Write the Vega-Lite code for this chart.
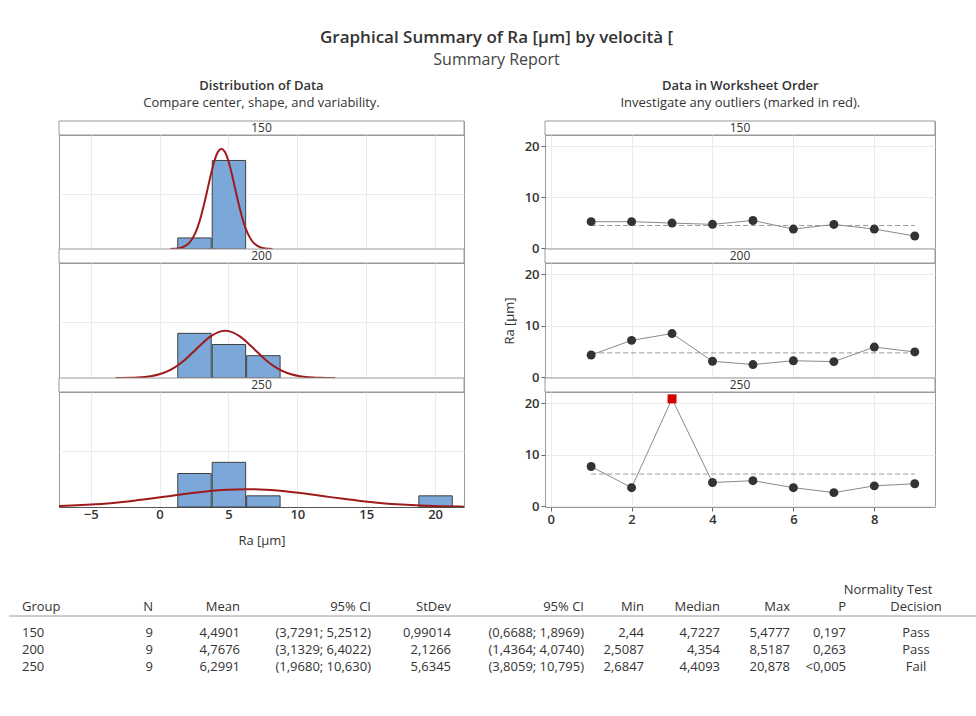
{
  "$schema": "https://vega.github.io/schema/vega-lite/v6.json",
  "padding": {"left": 8, "top": 29, "right": 0, "bottom": 0},
  "background": "white",
  "title": {"text": "Graphical Summary of Ra [μm] by velocità [", "subtitle": "Summary Report", "fontSize": 17, "fontWeight": 600, "color": "#333333", "subtitleFontSize": 16, "subtitleColor": "#444444", "subtitlePadding": 5, "anchor": "middle", "offset": 11, "dx": 4},
  "datasets": {
    "ts": [
      {"grp": "150", "obs": 1, "ra": 5.25, "out": "n"},
      {"grp": "150", "obs": 2, "ra": 5.25, "out": "n"},
      {"grp": "150", "obs": 3, "ra": 4.97, "out": "n"},
      {"grp": "150", "obs": 4, "ra": 4.7227, "out": "n"},
      {"grp": "150", "obs": 5, "ra": 5.4777, "out": "n"},
      {"grp": "150", "obs": 6, "ra": 3.8, "out": "n"},
      {"grp": "150", "obs": 7, "ra": 4.7, "out": "n"},
      {"grp": "150", "obs": 8, "ra": 3.8, "out": "n"},
      {"grp": "150", "obs": 9, "ra": 2.44, "out": "n"},
      {"grp": "200", "obs": 1, "ra": 4.354, "out": "n"},
      {"grp": "200", "obs": 2, "ra": 7.2, "out": "n"},
      {"grp": "200", "obs": 3, "ra": 8.5187, "out": "n"},
      {"grp": "200", "obs": 4, "ra": 3.15, "out": "n"},
      {"grp": "200", "obs": 5, "ra": 2.5087, "out": "n"},
      {"grp": "200", "obs": 6, "ra": 3.25, "out": "n"},
      {"grp": "200", "obs": 7, "ra": 3.08, "out": "n"},
      {"grp": "200", "obs": 8, "ra": 5.9, "out": "n"},
      {"grp": "200", "obs": 9, "ra": 4.95, "out": "n"},
      {"grp": "250", "obs": 1, "ra": 7.75, "out": "n"},
      {"grp": "250", "obs": 2, "ra": 3.65, "out": "n"},
      {"grp": "250", "obs": 3, "ra": 20.878, "out": "y"},
      {"grp": "250", "obs": 4, "ra": 4.65, "out": "n"},
      {"grp": "250", "obs": 5, "ra": 5.0, "out": "n"},
      {"grp": "250", "obs": 6, "ra": 3.65, "out": "n"},
      {"grp": "250", "obs": 7, "ra": 2.6847, "out": "n"},
      {"grp": "250", "obs": 8, "ra": 4.0, "out": "n"},
      {"grp": "250", "obs": 9, "ra": 4.4093, "out": "n"}
    ],
    "means": [
      {"grp": "150", "mean": 4.4901, "s": 1, "e": 9},
      {"grp": "200", "mean": 4.7676, "s": 1, "e": 9},
      {"grp": "250", "mean": 6.2991, "s": 1, "e": 9}
    ],
    "curve": [
      {"grp": "150", "x": 0.7771, "y": 0.008}, {"grp": "150", "x": 1.0246, "y": 0.0199}, {"grp": "150", "x": 1.2721, "y": 0.0461}, {"grp": "150", "x": 1.5197, "y": 0.1007}, {"grp": "150", "x": 1.7672, "y": 0.2066}, {"grp": "150", "x": 2.0147, "y": 0.3984}, {"grp": "150", "x": 2.2623, "y": 0.7213}, {"grp": "150", "x": 2.5098, "y": 1.227}, {"grp": "150", "x": 2.7574, "y": 1.9607}, {"grp": "150", "x": 3.0049, "y": 2.9433}, {"grp": "150", "x": 3.2524, "y": 4.1507}, {"grp": "150", "x": 3.5, "y": 5.4988}, {"grp": "150", "x": 3.7475, "y": 6.8434}, {"grp": "150", "x": 3.995, "y": 8.0007}, {"grp": "150", "x": 4.2426, "y": 8.787}, {"grp": "150", "x": 4.4901, "y": 9.066}, {"grp": "150", "x": 4.7376, "y": 8.787}, {"grp": "150", "x": 4.9852, "y": 8.0007}, {"grp": "150", "x": 5.2327, "y": 6.8434}, {"grp": "150", "x": 5.4802, "y": 5.4988}, {"grp": "150", "x": 5.7278, "y": 4.1507}, {"grp": "150", "x": 5.9753, "y": 2.9433}, {"grp": "150", "x": 6.2228, "y": 1.9607}, {"grp": "150", "x": 6.4704, "y": 1.227}, {"grp": "150", "x": 6.7179, "y": 0.7213}, {"grp": "150", "x": 6.9655, "y": 0.3984}, {"grp": "150", "x": 7.213, "y": 0.2066}, {"grp": "150", "x": 7.4605, "y": 0.1007}, {"grp": "150", "x": 7.7081, "y": 0.0461}, {"grp": "150", "x": 7.9556, "y": 0.0199}, {"grp": "150", "x": 8.2031, "y": 0.008},
      {"grp": "200", "x": -3.2072, "y": 0.0037}, {"grp": "200", "x": -2.6755, "y": 0.0092}, {"grp": "200", "x": -2.1439, "y": 0.0215}, {"grp": "200", "x": -1.6122, "y": 0.0469}, {"grp": "200", "x": -1.0806, "y": 0.0962}, {"grp": "200", "x": -0.5489, "y": 0.1855}, {"grp": "200", "x": -0.0173, "y": 0.3358}, {"grp": "200", "x": 0.5144, "y": 0.5713}, {"grp": "200", "x": 1.046, "y": 0.9129}, {"grp": "200", "x": 1.5777, "y": 1.3703}, {"grp": "200", "x": 2.1093, "y": 1.9325}, {"grp": "200", "x": 2.641, "y": 2.5601}, {"grp": "200", "x": 3.1726, "y": 3.1861}, {"grp": "200", "x": 3.7043, "y": 3.7249}, {"grp": "200", "x": 4.2359, "y": 4.091}, {"grp": "200", "x": 4.7676, "y": 4.2209}, {"grp": "200", "x": 5.2993, "y": 4.091}, {"grp": "200", "x": 5.8309, "y": 3.7249}, {"grp": "200", "x": 6.3626, "y": 3.1861}, {"grp": "200", "x": 6.8942, "y": 2.5601}, {"grp": "200", "x": 7.4259, "y": 1.9325}, {"grp": "200", "x": 7.9575, "y": 1.3703}, {"grp": "200", "x": 8.4892, "y": 0.9129}, {"grp": "200", "x": 9.0208, "y": 0.5713}, {"grp": "200", "x": 9.5525, "y": 0.3358}, {"grp": "200", "x": 10.0841, "y": 0.1855}, {"grp": "200", "x": 10.6158, "y": 0.0962}, {"grp": "200", "x": 11.1474, "y": 0.0469}, {"grp": "200", "x": 11.6791, "y": 0.0215}, {"grp": "200", "x": 12.2107, "y": 0.0092}, {"grp": "200", "x": 12.7424, "y": 0.0037},
      {"grp": "250", "x": -9.1958, "y": 0.0363}, {"grp": "250", "x": -7.7872, "y": 0.07}, {"grp": "250", "x": -6.3785, "y": 0.1267}, {"grp": "250", "x": -4.9699, "y": 0.2156}, {"grp": "250", "x": -3.5613, "y": 0.3445}, {"grp": "250", "x": -2.1527, "y": 0.5172}, {"grp": "250", "x": -0.744, "y": 0.7294}, {"grp": "250", "x": 0.6646, "y": 0.9663}, {"grp": "250", "x": 2.0732, "y": 1.2025}, {"grp": "250", "x": 3.4818, "y": 1.4059}, {"grp": "250", "x": 4.8905, "y": 1.5441}, {"grp": "250", "x": 6.2991, "y": 1.5931}, {"grp": "250", "x": 7.7077, "y": 1.5441}, {"grp": "250", "x": 9.1164, "y": 1.4059}, {"grp": "250", "x": 10.525, "y": 1.2025}, {"grp": "250", "x": 11.9336, "y": 0.9663}, {"grp": "250", "x": 13.3422, "y": 0.7294}, {"grp": "250", "x": 14.7509, "y": 0.5172}, {"grp": "250", "x": 16.1595, "y": 0.3445}, {"grp": "250", "x": 17.5681, "y": 0.2156}, {"grp": "250", "x": 18.9767, "y": 0.1267}, {"grp": "250", "x": 20.3854, "y": 0.07}, {"grp": "250", "x": 21.794, "y": 0.0363}, {"grp": "250", "x": 23.2026, "y": 0.0177}
    ],
    "tbl": [
      {"r": 0, "c": 11, "t": "Normality Test"},
      {"r": 1, "c": 0, "t": "Group"}, {"r": 1, "c": 1, "t": "N"}, {"r": 1, "c": 2, "t": "Mean"}, {"r": 1, "c": 3, "t": "95% CI"}, {"r": 1, "c": 4, "t": "StDev"}, {"r": 1, "c": 5, "t": "95% CI"}, {"r": 1, "c": 6, "t": "Min"}, {"r": 1, "c": 7, "t": "Median"}, {"r": 1, "c": 8, "t": "Max"}, {"r": 1, "c": 9, "t": "P"}, {"r": 1, "c": 10, "t": "Decision"},
      {"r": 3, "c": 0, "t": "150"}, {"r": 3, "c": 1, "t": "9"}, {"r": 3, "c": 2, "t": "4,4901"}, {"r": 3, "c": 3, "t": "(3,7291; 5,2512)"}, {"r": 3, "c": 4, "t": "0,99014"}, {"r": 3, "c": 5, "t": "(0,6688; 1,8969)"}, {"r": 3, "c": 6, "t": "2,44"}, {"r": 3, "c": 7, "t": "4,7227"}, {"r": 3, "c": 8, "t": "5,4777"}, {"r": 3, "c": 9, "t": "0,197"}, {"r": 3, "c": 10, "t": "Pass"},
      {"r": 4, "c": 0, "t": "200"}, {"r": 4, "c": 1, "t": "9"}, {"r": 4, "c": 2, "t": "4,7676"}, {"r": 4, "c": 3, "t": "(3,1329; 6,4022)"}, {"r": 4, "c": 4, "t": "2,1266"}, {"r": 4, "c": 5, "t": "(1,4364; 4,0740)"}, {"r": 4, "c": 6, "t": "2,5087"}, {"r": 4, "c": 7, "t": "4,354"}, {"r": 4, "c": 8, "t": "8,5187"}, {"r": 4, "c": 9, "t": "0,263"}, {"r": 4, "c": 10, "t": "Pass"},
      {"r": 5, "c": 0, "t": "250"}, {"r": 5, "c": 1, "t": "9"}, {"r": 5, "c": 2, "t": "6,2991"}, {"r": 5, "c": 3, "t": "(1,9680; 10,630)"}, {"r": 5, "c": 4, "t": "5,6345"}, {"r": 5, "c": 5, "t": "(3,8059; 10,795)"}, {"r": 5, "c": 6, "t": "2,6847"}, {"r": 5, "c": 7, "t": "4,4093"}, {"r": 5, "c": 8, "t": "20,878"}, {"r": 5, "c": 9, "t": "<0,005"}, {"r": 5, "c": 10, "t": "Fail"}
    ],
    "tline": [{"r": 2, "c": -1, "c2": 12}]
  },
  "spacing": 33,
  "vconcat": [
    {
      "spacing": 37,
      "hconcat": [
        {
          "title": {"text": "Distribution of Data", "subtitle": "Compare center, shape, and variability.", "fontSize": 13, "fontWeight": 600, "color": "#333333", "subtitleFontSize": 13, "subtitleColor": "#333333", "subtitlePadding": 4, "anchor": "middle", "offset": 10},
          "spacing": 0,
          "bounds": "flush",
          "vconcat": [
            {"width": 405, "height": 14, "data": {"values": [{"lab": "150"}]}, "layer": [
              {"mark": {"type": "rect", "fill": "white", "stroke": "#9a9a9a", "strokeWidth": 1}, "encoding": {"x": {"datum": 0, "type": "quantitative", "scale": {"domain": [0, 1], "nice": false, "zero": false}, "axis": null}, "x2": {"datum": 1}, "y": {"datum": 0, "type": "quantitative", "scale": {"domain": [0, 1], "nice": false, "zero": false}, "axis": null}, "y2": {"datum": 1}}},
              {"mark": {"type": "text", "fontSize": 12, "color": "#333333", "baseline": "middle"}, "encoding": {"x": {"datum": 0.5, "type": "quantitative"}, "y": {"datum": 0.5, "type": "quantitative"}, "text": {"field": "lab"}}}
            ]},
            {"width": 405, "height": 114, "layer": [
              {"data": {"name": "ts"}, "transform": [{"filter": "datum.grp == '150'"}, {"bin": {"step": 2.5, "extent": [1.25, 21.25], "nice": false}, "field": "ra", "as": ["b0", "b1"]}, {"aggregate": [{"op": "count", "as": "n"}], "groupby": ["b0", "b1"]}],
               "mark": {"type": "bar", "fill": "#7BA7D9", "stroke": "#404040", "strokeWidth": 1},
               "encoding": {"x": {"field": "b0", "type": "quantitative", "bin": "binned", "scale": {"domain": [-7.3, 22.1], "nice": false, "zero": false}, "axis": {"values": [-5, 0, 5, 10, 15, 20], "labels": false, "ticks": false, "domain": true, "title": null, "grid": true}}, "x2": {"field": "b1"}, "y": {"field": "n", "type": "quantitative", "scale": {"domain": [0, 10.3], "nice": false}, "axis": {"values": [5], "labels": false, "ticks": false, "domain": false, "title": null, "grid": true}}}},
              {"data": {"name": "curve"}, "transform": [{"filter": "datum.grp == '150'"}], "mark": {"type": "line", "color": "#9E1B1B", "strokeWidth": 2, "interpolate": "monotone", "clip": true}, "encoding": {"x": {"field": "x", "type": "quantitative"}, "y": {"field": "y", "type": "quantitative"}}}
            ]},
            {"width": 405, "height": 14, "data": {"values": [{"lab": "200"}]}, "layer": [
              {"mark": {"type": "rect", "fill": "white", "stroke": "#9a9a9a", "strokeWidth": 1}, "encoding": {"x": {"datum": 0, "type": "quantitative", "scale": {"domain": [0, 1], "nice": false, "zero": false}, "axis": null}, "x2": {"datum": 1}, "y": {"datum": 0, "type": "quantitative", "scale": {"domain": [0, 1], "nice": false, "zero": false}, "axis": null}, "y2": {"datum": 1}}},
              {"mark": {"type": "text", "fontSize": 12, "color": "#333333", "baseline": "middle"}, "encoding": {"x": {"datum": 0.5, "type": "quantitative"}, "y": {"datum": 0.5, "type": "quantitative"}, "text": {"field": "lab"}}}
            ]},
            {"width": 405, "height": 115, "layer": [
              {"data": {"name": "ts"}, "transform": [{"filter": "datum.grp == '200'"}, {"bin": {"step": 2.5, "extent": [1.25, 21.25], "nice": false}, "field": "ra", "as": ["b0", "b1"]}, {"aggregate": [{"op": "count", "as": "n"}], "groupby": ["b0", "b1"]}],
               "mark": {"type": "bar", "fill": "#7BA7D9", "stroke": "#404040", "strokeWidth": 1},
               "encoding": {"x": {"field": "b0", "type": "quantitative", "bin": "binned", "scale": {"domain": [-7.3, 22.1], "nice": false, "zero": false}, "axis": {"values": [-5, 0, 5, 10, 15, 20], "labels": false, "ticks": false, "domain": true, "title": null, "grid": true}}, "x2": {"field": "b1"}, "y": {"field": "n", "type": "quantitative", "scale": {"domain": [0, 10.3], "nice": false}, "axis": {"values": [5], "labels": false, "ticks": false, "domain": false, "title": null, "grid": true}}}},
              {"data": {"name": "curve"}, "transform": [{"filter": "datum.grp == '200'"}], "mark": {"type": "line", "color": "#9E1B1B", "strokeWidth": 2, "interpolate": "monotone", "clip": true}, "encoding": {"x": {"field": "x", "type": "quantitative"}, "y": {"field": "y", "type": "quantitative"}}}
            ]},
            {"width": 405, "height": 14, "data": {"values": [{"lab": "250"}]}, "layer": [
              {"mark": {"type": "rect", "fill": "white", "stroke": "#9a9a9a", "strokeWidth": 1}, "encoding": {"x": {"datum": 0, "type": "quantitative", "scale": {"domain": [0, 1], "nice": false, "zero": false}, "axis": null}, "x2": {"datum": 1}, "y": {"datum": 0, "type": "quantitative", "scale": {"domain": [0, 1], "nice": false, "zero": false}, "axis": null}, "y2": {"datum": 1}}},
              {"mark": {"type": "text", "fontSize": 12, "color": "#333333", "baseline": "middle"}, "encoding": {"x": {"datum": 0.5, "type": "quantitative"}, "y": {"datum": 0.5, "type": "quantitative"}, "text": {"field": "lab"}}}
            ]},
            {"width": 405, "height": 115, "layer": [
              {"data": {"name": "ts"}, "transform": [{"filter": "datum.grp == '250'"}, {"bin": {"step": 2.5, "extent": [1.25, 21.25], "nice": false}, "field": "ra", "as": ["b0", "b1"]}, {"aggregate": [{"op": "count", "as": "n"}], "groupby": ["b0", "b1"]}],
               "mark": {"type": "bar", "fill": "#7BA7D9", "stroke": "#404040", "strokeWidth": 1},
               "encoding": {"x": {"field": "b0", "type": "quantitative", "bin": "binned", "scale": {"domain": [-7.3, 22.1], "nice": false, "zero": false}, "axis": {"values": [-5, 0, 5, 10, 15, 20], "labels": true, "labelFontWeight": 600, "ticks": false, "domain": true, "title": "Ra [μm]", "grid": true, "labelPadding": 1, "titlePadding": 13}}, "x2": {"field": "b1"}, "y": {"field": "n", "type": "quantitative", "scale": {"domain": [0, 10.3], "nice": false}, "axis": {"values": [5], "labels": false, "ticks": false, "domain": false, "title": null, "grid": true}}}},
              {"data": {"name": "curve"}, "transform": [{"filter": "datum.grp == '250'"}], "mark": {"type": "line", "color": "#9E1B1B", "strokeWidth": 2, "interpolate": "monotone", "clip": true}, "encoding": {"x": {"field": "x", "type": "quantitative"}, "y": {"field": "y", "type": "quantitative"}}}
            ]}
          ]
        },
        {
          "title": {"text": "Data in Worksheet Order", "subtitle": "Investigate any outliers (marked in red).", "fontSize": 13, "fontWeight": 600, "color": "#333333", "subtitleFontSize": 13, "subtitleColor": "#333333", "subtitlePadding": 4, "anchor": "middle", "offset": 10, "dx": 21},
          "spacing": 0,
          "bounds": "flush",
          "vconcat": [
            {"width": 390, "height": 14, "data": {"values": [{"lab": "150"}]}, "layer": [
              {"mark": {"type": "rect", "fill": "white", "stroke": "#9a9a9a", "strokeWidth": 1}, "encoding": {"x": {"datum": 0, "type": "quantitative", "scale": {"domain": [0, 1], "nice": false, "zero": false}, "axis": null}, "x2": {"datum": 1}, "y": {"datum": 0, "type": "quantitative", "scale": {"domain": [0, 1], "nice": false, "zero": false}, "axis": null}, "y2": {"datum": 1}}},
              {"mark": {"type": "text", "fontSize": 12, "color": "#333333", "baseline": "middle"}, "encoding": {"x": {"datum": 0.5, "type": "quantitative"}, "y": {"datum": 0.5, "type": "quantitative"}, "text": {"field": "lab"}}}
            ]},
            {"width": 390, "height": 114, "layer": [
              {"data": {"name": "means"}, "transform": [{"filter": "datum.grp == '150'"}], "mark": {"type": "rule", "color": "#9a9a9a", "strokeWidth": 1, "strokeDash": [5, 3]},
               "encoding": {"x": {"field": "s", "type": "quantitative", "scale": {"domain": [-0.14, 9.5], "nice": false, "zero": false}, "axis": {"values": [0, 2, 4, 6, 8], "labels": false, "ticks": false, "domain": false, "title": null, "grid": true}}, "x2": {"field": "e"}, "y": {"field": "mean", "type": "quantitative", "scale": {"domain": [-0.1, 22.2], "nice": false, "zero": false}, "axis": {"values": [0, 10, 20], "labelFontWeight": 600, "tickSize": 4, "domain": false, "title": null, "grid": true, "labelPadding": 2}}}},
              {"data": {"name": "ts"}, "transform": [{"filter": "datum.grp == '150'"}], "mark": {"type": "line", "color": "#8a8a8a", "strokeWidth": 1}, "encoding": {"x": {"field": "obs", "type": "quantitative"}, "y": {"field": "ra", "type": "quantitative"}}},
              {"data": {"name": "ts"}, "transform": [{"filter": "datum.grp == '150'"}], "mark": {"type": "point", "filled": true, "opacity": 1, "size": 80},
               "encoding": {"x": {"field": "obs", "type": "quantitative"}, "y": {"field": "ra", "type": "quantitative"}, "shape": {"field": "out", "type": "nominal", "scale": {"domain": ["n", "y"], "range": ["circle", "square"]}, "legend": null}, "color": {"field": "out", "type": "nominal", "scale": {"domain": ["n", "y"], "range": ["#333333", "#d40000"]}, "legend": null}}}
            ]},
            {"width": 390, "height": 14, "data": {"values": [{"lab": "200"}]}, "layer": [
              {"mark": {"type": "rect", "fill": "white", "stroke": "#9a9a9a", "strokeWidth": 1}, "encoding": {"x": {"datum": 0, "type": "quantitative", "scale": {"domain": [0, 1], "nice": false, "zero": false}, "axis": null}, "x2": {"datum": 1}, "y": {"datum": 0, "type": "quantitative", "scale": {"domain": [0, 1], "nice": false, "zero": false}, "axis": null}, "y2": {"datum": 1}}},
              {"mark": {"type": "text", "fontSize": 12, "color": "#333333", "baseline": "middle"}, "encoding": {"x": {"datum": 0.5, "type": "quantitative"}, "y": {"datum": 0.5, "type": "quantitative"}, "text": {"field": "lab"}}}
            ]},
            {"width": 390, "height": 115, "layer": [
              {"data": {"name": "means"}, "transform": [{"filter": "datum.grp == '200'"}], "mark": {"type": "rule", "color": "#9a9a9a", "strokeWidth": 1, "strokeDash": [5, 3]},
               "encoding": {"x": {"field": "s", "type": "quantitative", "scale": {"domain": [-0.14, 9.5], "nice": false, "zero": false}, "axis": {"values": [0, 2, 4, 6, 8], "labels": false, "ticks": false, "domain": false, "title": null, "grid": true}}, "x2": {"field": "e"}, "y": {"field": "mean", "type": "quantitative", "scale": {"domain": [-0.1, 22.2], "nice": false, "zero": false}, "axis": {"values": [0, 10, 20], "labelFontWeight": 600, "tickSize": 4, "domain": false, "title": "Ra [μm]", "titlePadding": 8, "grid": true, "labelPadding": 2}}}},
              {"data": {"name": "ts"}, "transform": [{"filter": "datum.grp == '200'"}], "mark": {"type": "line", "color": "#8a8a8a", "strokeWidth": 1}, "encoding": {"x": {"field": "obs", "type": "quantitative"}, "y": {"field": "ra", "type": "quantitative"}}},
              {"data": {"name": "ts"}, "transform": [{"filter": "datum.grp == '200'"}], "mark": {"type": "point", "filled": true, "opacity": 1, "size": 80},
               "encoding": {"x": {"field": "obs", "type": "quantitative"}, "y": {"field": "ra", "type": "quantitative"}, "shape": {"field": "out", "type": "nominal", "scale": {"domain": ["n", "y"], "range": ["circle", "square"]}, "legend": null}, "color": {"field": "out", "type": "nominal", "scale": {"domain": ["n", "y"], "range": ["#333333", "#d40000"]}, "legend": null}}}
            ]},
            {"width": 390, "height": 14, "data": {"values": [{"lab": "250"}]}, "layer": [
              {"mark": {"type": "rect", "fill": "white", "stroke": "#9a9a9a", "strokeWidth": 1}, "encoding": {"x": {"datum": 0, "type": "quantitative", "scale": {"domain": [0, 1], "nice": false, "zero": false}, "axis": null}, "x2": {"datum": 1}, "y": {"datum": 0, "type": "quantitative", "scale": {"domain": [0, 1], "nice": false, "zero": false}, "axis": null}, "y2": {"datum": 1}}},
              {"mark": {"type": "text", "fontSize": 12, "color": "#333333", "baseline": "middle"}, "encoding": {"x": {"datum": 0.5, "type": "quantitative"}, "y": {"datum": 0.5, "type": "quantitative"}, "text": {"field": "lab"}}}
            ]},
            {"width": 390, "height": 115, "layer": [
              {"data": {"name": "means"}, "transform": [{"filter": "datum.grp == '250'"}], "mark": {"type": "rule", "color": "#9a9a9a", "strokeWidth": 1, "strokeDash": [5, 3]},
               "encoding": {"x": {"field": "s", "type": "quantitative", "scale": {"domain": [-0.14, 9.5], "nice": false, "zero": false}, "axis": {"values": [0, 2, 4, 6, 8], "labels": true, "labelFontWeight": 600, "ticks": true, "tickSize": 4, "domain": false, "title": null, "grid": true, "labelPadding": 2}}, "x2": {"field": "e"}, "y": {"field": "mean", "type": "quantitative", "scale": {"domain": [-0.1, 22.2], "nice": false, "zero": false}, "axis": {"values": [0, 10, 20], "labelFontWeight": 600, "tickSize": 4, "domain": false, "title": null, "grid": true, "labelPadding": 2}}}},
              {"data": {"name": "ts"}, "transform": [{"filter": "datum.grp == '250'"}], "mark": {"type": "line", "color": "#8a8a8a", "strokeWidth": 1}, "encoding": {"x": {"field": "obs", "type": "quantitative"}, "y": {"field": "ra", "type": "quantitative"}}},
              {"data": {"name": "ts"}, "transform": [{"filter": "datum.grp == '250'"}], "mark": {"type": "point", "filled": true, "opacity": 1, "size": 80},
               "encoding": {"x": {"field": "obs", "type": "quantitative"}, "y": {"field": "ra", "type": "quantitative"}, "shape": {"field": "out", "type": "nominal", "scale": {"domain": ["n", "y"], "range": ["circle", "square"]}, "legend": null}, "color": {"field": "out", "type": "nominal", "scale": {"domain": ["n", "y"], "range": ["#333333", "#d40000"]}, "legend": null}}}
            ]}
          ]
        }
      ]
    },
    {
      "width": 880, "height": 92,
      "view": {"stroke": null},
      "layer": [
        {"data": {"name": "tline"}, "mark": {"type": "rule", "color": "#9a9a9a", "strokeWidth": 1},
         "encoding": {"x": {"field": "c", "type": "quantitative", "scale": {"domain": [-1, 0, 1, 2, 3, 4, 5, 6, 7, 8, 9, 10, 11, 12], "range": [-50, -37, 94, 181, 312, 392, 525, 585, 661, 731, 787, 857, 829, 917], "nice": false, "zero": false}, "axis": null}, "x2": {"field": "c2"}, "y": {"field": "r", "type": "quantitative", "scale": {"domain": [0, 1, 2, 3, 4, 5], "range": [9, 26, 35, 52, 69, 86], "nice": false, "zero": false}, "axis": null}}},
        {"data": {"name": "tbl"}, "transform": [{"filter": "datum.c == 0"}], "mark": {"type": "text", "align": "left", "baseline": "middle", "fontSize": 13, "color": "#333333"},
         "encoding": {"x": {"field": "c", "type": "quantitative"}, "y": {"field": "r", "type": "quantitative"}, "text": {"field": "t"}}},
        {"data": {"name": "tbl"}, "transform": [{"filter": "datum.c >= 1 && datum.c <= 9"}], "mark": {"type": "text", "align": "right", "baseline": "middle", "fontSize": 13, "color": "#333333"},
         "encoding": {"x": {"field": "c", "type": "quantitative"}, "y": {"field": "r", "type": "quantitative"}, "text": {"field": "t"}}},
        {"data": {"name": "tbl"}, "transform": [{"filter": "datum.c >= 10"}], "mark": {"type": "text", "align": "center", "baseline": "middle", "fontSize": 13, "color": "#333333"},
         "encoding": {"x": {"field": "c", "type": "quantitative"}, "y": {"field": "r", "type": "quantitative"}, "text": {"field": "t"}}}
      ]
    }
  ],
  "config": {
    "font": "Open Sans",
    "view": {"stroke": "#9a9a9a", "strokeWidth": 1},
    "axis": {"gridColor": "#ebebeb", "labelColor": "#333333", "labelFontSize": 13, "labelFont": "Open Sans", "titleFont": "Open Sans", "titleColor": "#333333", "titleFontWeight": "normal", "titleFontSize": 13, "domainColor": "#555555", "tickColor": "#666666"},
    "text": {"font": "Open Sans"}
  }
}
